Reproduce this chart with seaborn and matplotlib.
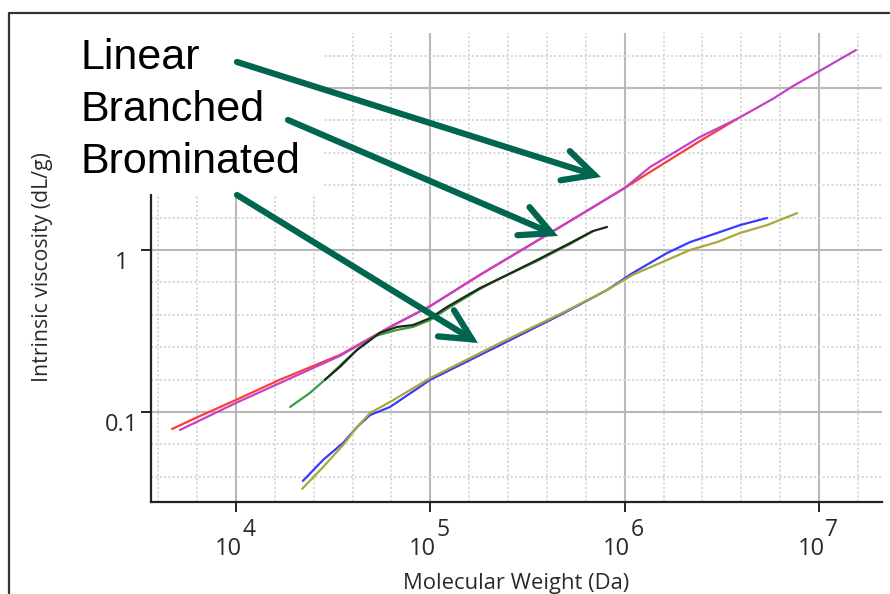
import numpy as np
import matplotlib
matplotlib.use('Agg')
import matplotlib.pyplot as plt
import seaborn as sns
from matplotlib.ticker import FixedLocator, NullFormatter
from matplotlib.patches import Rectangle, FancyArrowPatch
from matplotlib.lines import Line2D

sns.set_style("white")
plt.rcParams['font.family'] = ['Open Sans', 'DejaVu Sans']

# ---- data (Mw in Da, IV in dL/g) ----
linear_a_mw = [4690, 6530, 10000, 16800, 34300, 62100, 100000, 180000, 326000,
               589000, 1.0e6, 1.35e6, 2.44e6, 3.78e6]
linear_a_iv = [0.0785, 0.0944, 0.1186, 0.158, 0.225, 0.335, 0.451, 0.702, 1.074,
               1.644, 2.415, 3.03, 4.71, 6.44]

linear_b_mw = [5150, 10000, 34300, 62100, 100000, 180000, 326000, 589000, 1.0e6,
               1.35e6, 2.44e6, 3.78e6, 5.81e6, 7.36e6, 1.0e7, 1.55e7]
linear_b_iv = [0.0774, 0.1137, 0.222, 0.335, 0.451, 0.702, 1.074, 1.644, 2.415,
               3.25, 4.99, 6.44, 8.6, 10.3, 12.7, 17.18]

branched_a_mw = [19000, 24000, 29400, 36400, 42000, 51900, 67500, 81500, 100000,
                 122000, 180000, 220000, 354000, 524000, 687000]
branched_a_iv = [0.1074, 0.131, 0.162, 0.207, 0.242, 0.294, 0.321, 0.335, 0.370,
                 0.433, 0.574, 0.653, 0.855, 1.089, 1.309]

branched_b_mw = [28700, 34300, 42000, 55100, 67500, 81500, 100000, 122000, 180000,
                 220000, 354000, 524000, 687000, 811000]
branched_b_iv = [0.158, 0.190, 0.242, 0.308, 0.335, 0.344, 0.380, 0.445, 0.582,
                 0.653, 0.867, 1.104, 1.309, 1.387]

bromo_a_mw = [22100, 28100, 35600, 42000, 49000, 62100, 100000, 229000, 466000,
              811000, 1.10e6, 1.65e6, 2.17e6, 2.99e6, 3.93e6, 5.41e6]
bromo_a_iv = [0.0375, 0.0506, 0.0644, 0.0807, 0.0957, 0.1074, 0.158, 0.259, 0.397,
              0.566, 0.721, 0.957, 1.119, 1.274, 1.426, 1.578]

bromo_b_mw = [21900, 28100, 35600, 42000, 49000, 62100, 100000, 229000, 466000,
              811000, 1.10e6, 1.65e6, 2.17e6, 2.99e6, 3.93e6, 5.41e6, 7.71e6]
bromo_b_iv = [0.0335, 0.0457, 0.0625, 0.0807, 0.0986, 0.1153, 0.162, 0.267, 0.403,
              0.566, 0.702, 0.867, 1.0, 1.119, 1.274, 1.426, 1.690]

x_exponents = [4, 5, 6, 7]
y_labels = [(0.1, "0.1"), (1, "1")]
annot_labels = ["Linear", "Branched", "Brominated"]

W, H = 890, 594
fig = plt.figure(figsize=(W / 100, H / 100), dpi=100)
ax = fig.add_axes([151 / W, 1 - 502 / H, (882 - 151) / W, (502 - 33) / H])


def fp(x, y):
    # figure pixel (from top-left) -> figure fraction
    return (x / W, 1 - y / H)


series = [
    (linear_a_mw, linear_a_iv, '#ff3a3a'),
    (linear_b_mw, linear_b_iv, '#c243c8'),
    (branched_a_mw, branched_a_iv, '#3f9a40'),
    (branched_b_mw, branched_b_iv, '#1c2a1c'),
    (bromo_a_mw, bromo_a_iv, '#3a3aff'),
    (bromo_b_mw, bromo_b_iv, '#a8a83a'),
]
for mw, iv, col in series:
    sns.lineplot(x=mw, y=iv, color=col, lw=1.6, ax=ax, sort=False, zorder=3)

ax.set_xscale('log')
ax.set_yscale('log')
ax.set_xlim(10 ** 3.563, 10 ** 7.324)
ax.set_ylim(10 ** -1.556, 10 ** 1.34)

# majors at decades, minors every 0.2 decade
ax.xaxis.set_major_locator(FixedLocator([10.0 ** e for e in range(3, 9)]))
ax.yaxis.set_major_locator(FixedLocator([10.0 ** e for e in range(-2, 3)]))
ax.xaxis.set_minor_locator(FixedLocator([10 ** (k * 0.2) for k in range(15, 40) if k % 5]))
ax.yaxis.set_minor_locator(FixedLocator([10 ** (k * 0.2) for k in range(-10, 10) if k % 5]))
ax.xaxis.set_major_formatter(NullFormatter())
ax.xaxis.set_minor_formatter(NullFormatter())
ax.yaxis.set_major_formatter(NullFormatter())
ax.yaxis.set_minor_formatter(NullFormatter())

ax.grid(which='major', color='#b9b9b9', lw=1.5, ls='-')
ax.grid(which='minor', color='#d6d6d6', lw=1.3, ls=(0, (1.2, 1.2)))
ax.set_axisbelow(True)

for s in ['top', 'right']:
    ax.spines[s].set_visible(False)
for s in ['left', 'bottom']:
    ax.spines[s].set_color('#222222')
    ax.spines[s].set_linewidth(1.6)
ax.tick_params(which='major', direction='out', length=7, width=1.4, color='#222222')
ax.tick_params(which='minor', direction='out', length=4, width=1.2, color='#222222')
ax.tick_params(left=True, bottom=True)

# x tick labels drawn as "10" with a big raised exponent
for e in x_exponents:
    ax.annotate("10", xy=(10.0 ** e, 0), xycoords=('data', 'axes fraction'),
                xytext=(4, -25), textcoords='offset points',
                ha='right', va='top', fontsize=17, color='#2a2a2a')
    ax.annotate(str(e), xy=(10.0 ** e, 0), xycoords=('data', 'axes fraction'),
                xytext=(4.5, -11.5), textcoords='offset points',
                ha='left', va='top', fontsize=16.5, color='#2a2a2a')
for v, lab in y_labels:
    ax.annotate(lab, xy=(0, v), xycoords=('axes fraction', 'data'),
                xytext=(-21.5, -9.5), textcoords='offset points',
                ha='center', va='center', fontsize=17, color='#2a2a2a')

fig.text(*fp(516, 584), "Molecular Weight (Da)", ha='center', va='center',
         fontsize=15.8, color='#2a2a2a')
fig.text(*fp(43, 267), "Intrinsic viscosity (dL/g)", ha='center', va='center',
         rotation=90, fontsize=15.3, color='#2a2a2a')

# white box behind the big annotation words
x0, y0 = fp(100, 194)
fig.add_artist(Rectangle((x0, y0), (323 - 100) / W, (194 - 20) / H,
                         transform=fig.transFigure, facecolor='white',
                         edgecolor='none', zorder=5))

for lab, base in zip(annot_labels, [69, 121, 173]):
    fig.text(*fp(81, base), lab, ha='left', va='baseline', fontsize=31,
             family=['Liberation Sans', 'DejaVu Sans'], color='black', zorder=6)

arrow_green = '#00664f'
for tail, tip in [((237, 62), (601, 177)), ((288, 120), (558, 236)), ((237, 195), (478, 343))]:
    fig.add_artist(FancyArrowPatch(fp(*tail), fp(*tip), transform=fig.transFigure,
                                   arrowstyle='->,head_length=2.2,head_width=1.1',
                                   mutation_scale=10, lw=4.5, color=arrow_green,
                                   shrinkA=0, shrinkB=0, joinstyle='miter', zorder=7))

# outer frame (top and left edges visible)
fig.add_artist(Line2D([9 / W, 9 / W, 1.0], [0.0, 1 - 13 / H, 1 - 13 / H],
                      transform=fig.transFigure, color='#333333', lw=1.6, zorder=8))

fig.savefig("out.png", dpi=100)
